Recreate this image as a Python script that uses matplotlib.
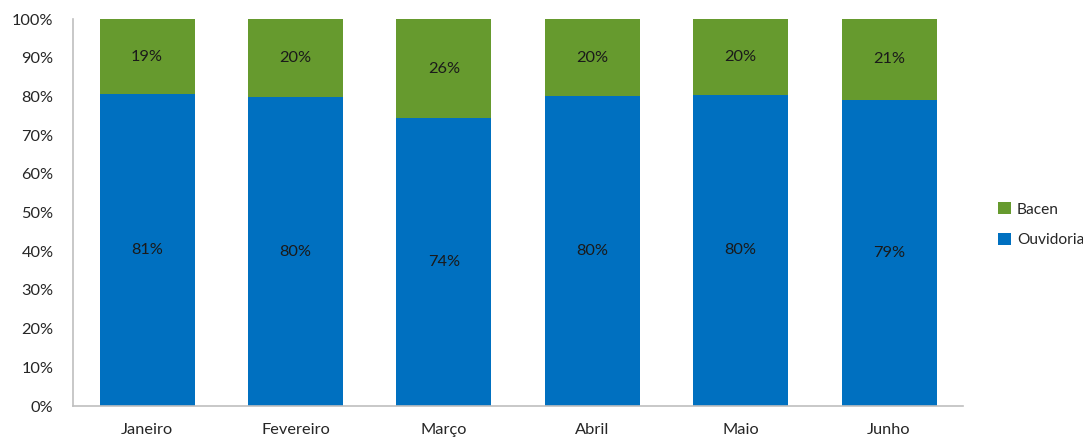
import numpy as np
from matplotlib import pyplot as plt

# Data
meses = ["Janeiro", "Fevereiro", "Março", "Abril", "Maio", "Junho"]
ouvidoria = [80.6, 79.8, 74.4, 80.1, 80.4, 79.1]
bacen = [19.4, 20.2, 25.6, 19.9, 19.6, 20.9]
ouvidoria_lbl = ["81%", "80%", "74%", "80%", "80%", "79%"]
bacen_lbl = ["19%", "20%", "26%", "20%", "20%", "21%"]

plt.rcParams['font.family'] = ['Lato', 'DejaVu Sans']
fs = 11.8

fig = plt.figure(figsize=(10.83, 4.38), dpi=100)
ax = fig.add_axes([0.0674, 0.073, 0.822, 0.8836])

x = np.arange(len(meses))
b1 = ax.bar(x, ouvidoria, width=0.64, color="#0070C0", label="Ouvidoria")
b2 = ax.bar(x, bacen, width=0.64, bottom=ouvidoria, color="#669A2E", label="Bacen")

ax.bar_label(b1, labels=ouvidoria_lbl, label_type="center", fontsize=fs, color="#1a1a1a")
ax.bar_label(b2, labels=bacen_lbl, label_type="center", fontsize=fs, color="#1a1a1a")

ax.set_xlim(-0.5, len(meses) - 0.5)
ax.set_ylim(0, 100)
ax.set_yticks(np.arange(0, 101, 10))
ax.set_yticklabels([str(v) + "%" for v in range(0, 101, 10)])
ax.set_xticks(x)
ax.set_xticklabels(meses)
ax.tick_params(length=0, labelsize=fs, colors="#262626")
ax.tick_params(axis="x", pad=12)
ax.tick_params(axis="y", pad=14)

for s in ["top", "right"]:
    ax.spines[s].set_visible(False)
for s in ["left", "bottom"]:
    ax.spines[s].set_color("#BFBFBF")
    ax.spines[s].set_linewidth(1.2)

handles = [b2, b1]
fig.legend(handles, ["Bacen", "Ouvidoria"], loc="upper left",
           bbox_to_anchor=(0.909, 0.57), frameon=False, fontsize=11.2,
           handlelength=0.8, handleheight=0.8, handletextpad=0.4,
           labelspacing=1.05, labelcolor="#262626")

plt.savefig("out.png")
